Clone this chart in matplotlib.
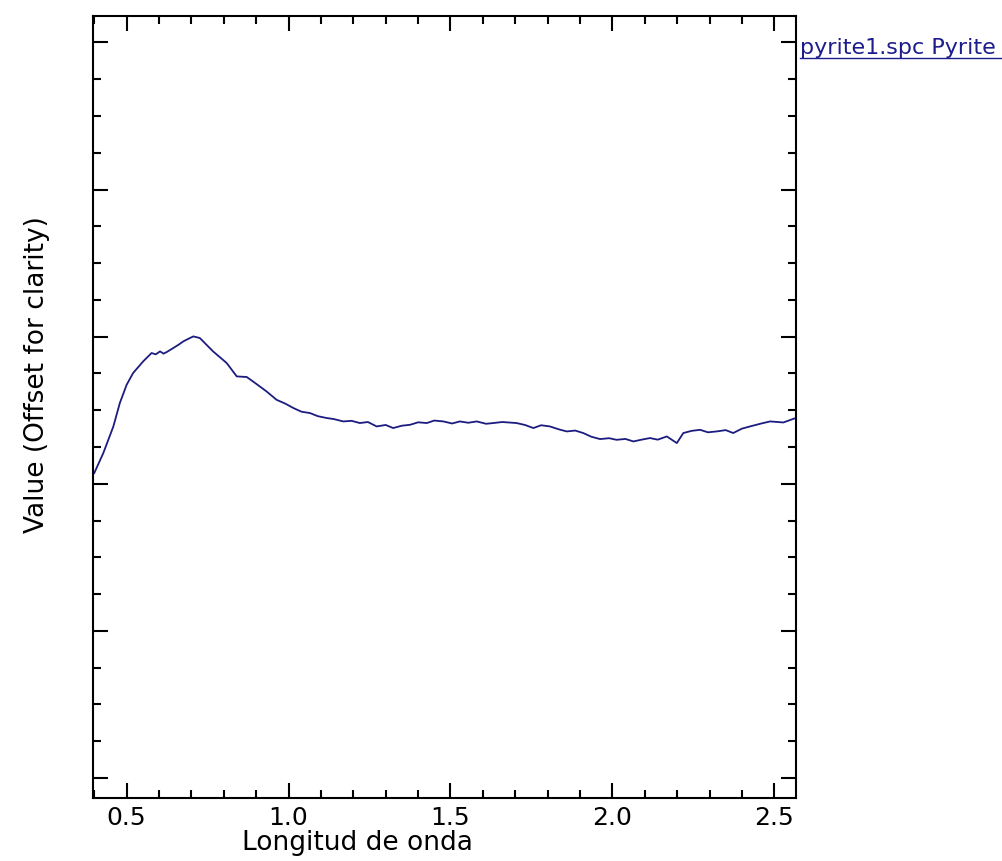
import matplotlib
matplotlib.use("Agg")
import matplotlib.pyplot as plt
from matplotlib.ticker import MultipleLocator, NullFormatter
from matplotlib.lines import Line2D

# spectrum (wavelength in um, offset value)
wavelength = [0.400, 0.428, 0.459, 0.479, 0.500, 0.520, 0.551, 0.577, 0.590, 0.603,
              0.614, 0.624, 0.644, 0.660, 0.675, 0.690, 0.706, 0.726, 0.767, 0.809,
              0.840, 0.871, 0.900, 0.932, 0.963, 0.990, 1.015, 1.040, 1.066, 1.090,
              1.118, 1.140, 1.169, 1.195, 1.220, 1.245, 1.272, 1.300, 1.323, 1.350,
              1.375, 1.400, 1.427, 1.450, 1.478, 1.505, 1.529, 1.555, 1.581, 1.610,
              1.632, 1.660, 1.704, 1.730, 1.756, 1.780, 1.807, 1.835, 1.859, 1.885,
              1.910, 1.935, 1.962, 1.990, 2.013, 2.040, 2.065, 2.090, 2.116, 2.140,
              2.168, 2.199, 2.219, 2.245, 2.271, 2.295, 2.322, 2.350, 2.373, 2.400,
              2.425, 2.460, 2.487, 2.528, 2.566]
value = [0.2073, 0.2209, 0.2390, 0.2549, 0.2673, 0.2753, 0.2832, 0.2889, 0.2880, 0.2900,
         0.2885, 0.2896, 0.2923, 0.2945, 0.2968, 0.2985, 0.3002, 0.2991, 0.2900, 0.2821,
         0.2730, 0.2726, 0.2680, 0.2628, 0.2571, 0.2545, 0.2515, 0.2490, 0.2481, 0.2460,
         0.2447, 0.2440, 0.2424, 0.2428, 0.2413, 0.2420, 0.2390, 0.2400, 0.2379, 0.2395,
         0.2401, 0.2418, 0.2413, 0.2430, 0.2424, 0.2410, 0.2424, 0.2415, 0.2424, 0.2408,
         0.2413, 0.2420, 0.2413, 0.2400, 0.2379, 0.2398, 0.2390, 0.2370, 0.2356, 0.2362,
         0.2345, 0.2320, 0.2304, 0.2310, 0.2299, 0.2305, 0.2288, 0.2300, 0.2311, 0.2300,
         0.2322, 0.2277, 0.2345, 0.2360, 0.2367, 0.2350, 0.2356, 0.2365, 0.2345, 0.2375,
         0.2390, 0.2410, 0.2424, 0.2417, 0.2447]

xticks = [0.5, 1.0, 1.5, 2.0, 2.5]
xticklabels = ["0.5", "1.0", "1.5", "2.0", "2.5"]
legend_label = "pyrite1.spc Pyrite"

fig = plt.figure(figsize=(10.03, 8.61), dpi=100)
ax = fig.add_axes([0.0930, 0.0735, 0.7003, 0.9079])

ax.plot(wavelength, value, color="#1c1c80", lw=1.3)

ax.set_xlim(0.397, 2.566)
ax.set_ylim(-0.0134, 0.518)

ax.set_xticks(xticks)
ax.set_xticklabels(xticklabels, fontsize=18)
ax.xaxis.set_minor_locator(MultipleLocator(0.1))
ax.yaxis.set_major_locator(MultipleLocator(0.1))
ax.yaxis.set_minor_locator(MultipleLocator(0.025))
ax.yaxis.set_major_formatter(NullFormatter())

ax.tick_params(which="both", direction="in", top=True, right=True, width=1.5, color="black")
ax.tick_params(which="major", length=10.5, pad=6)
ax.tick_params(which="minor", length=6)
for s in ax.spines.values():
    s.set_linewidth(1.5)

fig.text(357 / 1003, 1 - 843 / 861, "Longitud de onda", fontsize=19, ha="center", va="center")
fig.text(37 / 1003, 1 - 375 / 861, "Value (Offset for clarity)", fontsize=19,
         rotation=90, ha="center", va="center")

# legend label, underlined, cut by the right edge
fig.text(800 / 1003, 1 - 54 / 861, legend_label, fontsize=16, color="#1c1c8c",
         ha="left", va="baseline")
fig.add_artist(Line2D([800 / 1003, 1.0], [1 - 58 / 861, 1 - 58 / 861],
                      transform=fig.transFigure, color="#1c1c8c", lw=1.0))

fig.savefig("out.png", dpi=100)
